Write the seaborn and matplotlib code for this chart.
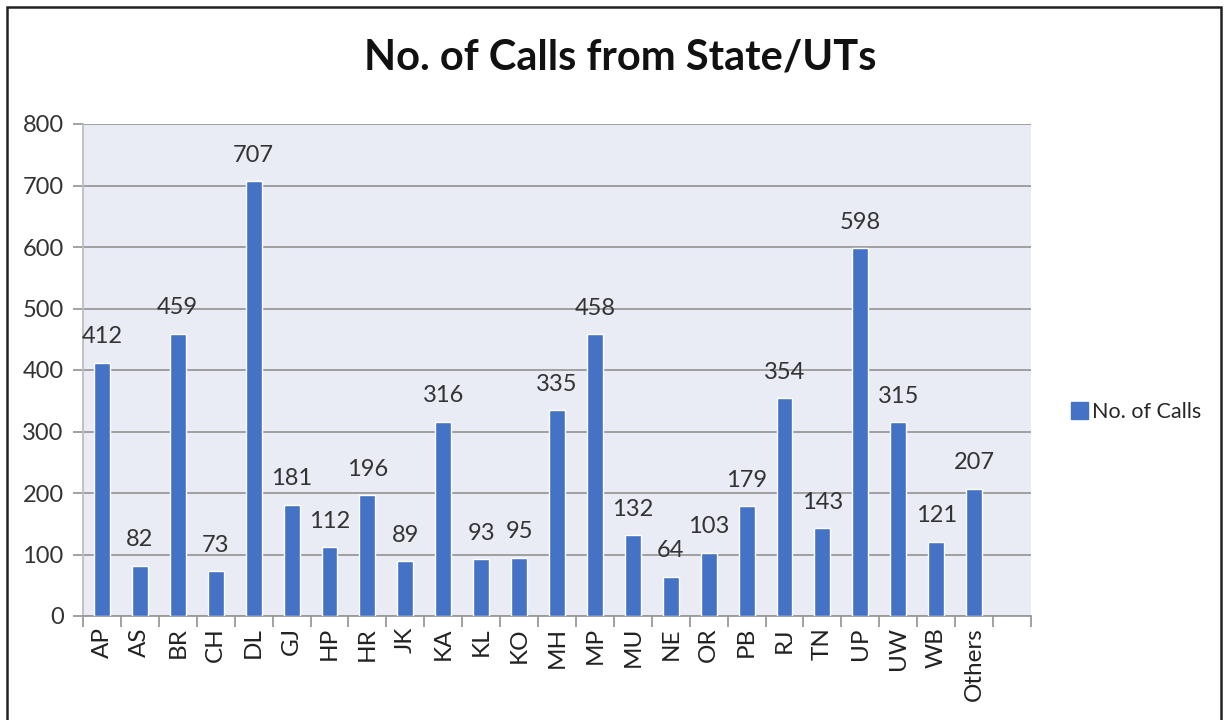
import matplotlib
matplotlib.use("Agg")
import matplotlib.pyplot as plt
import seaborn as sns
import pandas as pd
from matplotlib.patches import Rectangle, Patch
from matplotlib.ticker import FixedLocator, MultipleLocator

categories = ["AP", "AS", "BR", "CH", "DL", "GJ", "HP", "HR", "JK", "KA", "KL", "KO",
              "MH", "MP", "MU", "NE", "OR", "PB", "RJ", "TN", "UP", "UW", "WB", "Others"]
calls = [412, 82, 459, 73, 707, 181, 112, 196, 89, 316, 93, 95,
         335, 458, 132, 64, 103, 179, 354, 143, 598, 315, 121, 207]
title = "No. of Calls from State/UTs"
series_name = "No. of Calls"

sns.set_style("white")
plt.rcParams["font.family"] = ["Lato", "DejaVu Sans"]

df = pd.DataFrame({"state": categories, "calls": calls})

fig = plt.figure(figsize=(12.27, 7.2), dpi=100)
ax = fig.add_axes([83/1227, 1 - 616/720, (1031 - 83)/1227, (616 - 124)/720])
ax.set_facecolor("#E9EBF5")

bar_color = "#4472C4"
sns.barplot(data=df, x="state", y="calls", color=bar_color, width=0.42,
            saturation=1, ax=ax, zorder=3)

ax.set_xlim(-0.5, len(categories) + 0.5)
ax.set_ylim(0, 800)
ax.yaxis.set_major_locator(MultipleLocator(100))
ax.grid(axis="y", color="#9A9A9A", linewidth=1.3, zorder=0)
ax.set_axisbelow(True)

for s in ["top", "right"]:
    ax.spines[s].set_visible(False)
ax.spines["left"].set_color("#BDBDBD")
ax.spines["left"].set_linewidth(1.3)
ax.spines["bottom"].set_color("#9A9A9A")
ax.spines["bottom"].set_linewidth(1.3)

ax.set_xlabel("")
ax.set_ylabel("")
ax.tick_params(axis="y", length=7, width=1.3, color="#9A9A9A", labelsize=17,
               labelcolor="#333333", pad=7, left=True)
ax.tick_params(axis="x", which="major", length=0, labelsize=17.5,
               labelcolor="#222222", pad=8, rotation=90)
ax.xaxis.set_minor_locator(FixedLocator([i - 0.5 for i in range(len(categories) + 2)]))
ax.tick_params(axis="x", which="minor", length=8, width=1.3, color="#9A9A9A",
               bottom=True)

for c in ax.containers:
    ax.bar_label(c, labels=[str(v) for v in calls], padding=11, fontsize=17,
                 color="#333333")

fig.text(620/1227, 1 - 58/720, title, ha="center", va="center",
         fontsize=30, fontweight="bold", color="#111111")

handle = Patch(facecolor=bar_color, edgecolor=bar_color)
fig.legend([handle], [series_name], loc="center left",
           bbox_to_anchor=(1052/1227, 1 - 412/720), frameon=False,
           fontsize=15.5, handlelength=0.75, handleheight=0.85, handletextpad=0.2)

fig.patches.append(Rectangle((7/1227, -0.05), (1221 - 7)/1227, 1.05 - 7/720,
                             transform=fig.transFigure, fill=False,
                             edgecolor="#222222", linewidth=1.8))

fig.savefig("out.png", dpi=100, facecolor="white")
